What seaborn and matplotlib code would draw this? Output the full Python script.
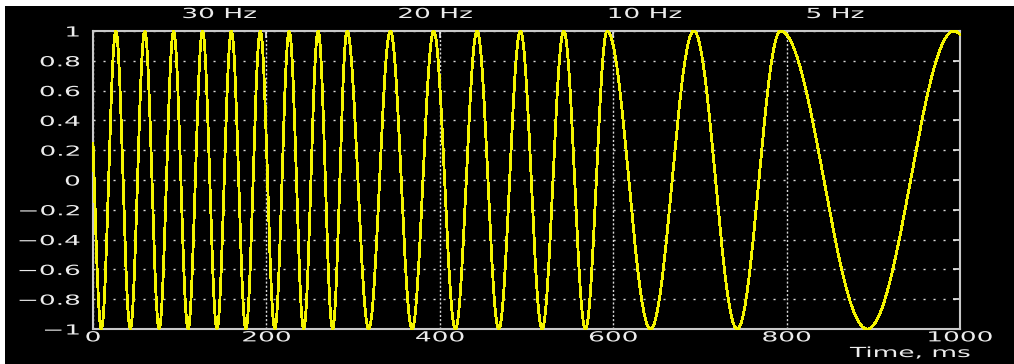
import numpy as np
import matplotlib
matplotlib.use("Agg")
import matplotlib.pyplot as plt
import seaborn as sns
from matplotlib.patheffects import AbstractPathEffect
from matplotlib.transforms import Affine2D, blended_transform_factory
from matplotlib.patches import Rectangle

# Stepped-frequency test tone: frequency changes at crests, phase stays continuous
segment_edges_ms = [0, 293, 593, 793, 1000]
segment_freqs_hz = [30, 20, 10, 5]
segment_labels = ["30 Hz", "20 Hz", "10 Hz", "5 Hz"]
label_x_ms = [103, 352, 594, 823]

x_ticks = [0, 200, 400, 600, 800, 1000]
x_tick_labels = ["0", "200", "400", "600", "800", "1000"]
y_ticks = [-1, -0.8, -0.6, -0.4, -0.2, 0, 0.2, 0.4, 0.6, 0.8, 1]
y_tick_labels = ["\u22121", "\u22120.8", "\u22120.6", "\u22120.4", "\u22120.2", "0",
                 "0.2", "0.4", "0.6", "0.8", "1"]

# 1 ms sampling of the signal
t_ms = np.arange(segment_edges_ms[0], segment_edges_ms[-1] + 1)
edges = np.array(segment_edges_ms, dtype=float)
freqs = np.array(segment_freqs_hz, dtype=float)
cycles_at_edge = np.concatenate([[0.0], np.cumsum(freqs * np.diff(edges) / 1000.0)])
seg = np.clip(np.searchsorted(edges, t_ms, side="right") - 1, 0, len(freqs) - 1)
cycles = cycles_at_edge[seg] + freqs[seg] * (t_ms - edges[seg]) / 1000.0
signal = np.cos(2 * np.pi * (cycles - cycles_at_edge[1]))


class Stretch(AbstractPathEffect):
    """Widen glyphs horizontally about an anchor (0 left, 0.5 centre, 1 right)."""

    def __init__(self, sx, anchor):
        super().__init__()
        self.sx = sx
        self.anchor = anchor

    def draw_path(self, renderer, gc, tpath, affine, rgbFace=None):
        ext = tpath.get_extents()
        x0 = ext.x0 + self.anchor * ext.width
        tr = Affine2D().translate(-x0, 0).scale(self.sx, 1.0).translate(x0, 0) + affine
        renderer.draw_path(gc, tpath, tr, rgbFace)


sns.set_theme(style="dark")
plt.rcParams["font.family"] = ["DejaVu Sans"]
plt.rcParams["axes.unicode_minus"] = True

FG = "#ececec"
SX = 1.9

fig = plt.figure(figsize=(10.14, 3.64), dpi=100, facecolor="black")
ax = fig.add_axes([93 / 1014, 1 - 329 / 364, 867 / 1014, 298 / 364])
ax.set_facecolor("black")

sns.lineplot(x=t_ms, y=signal, ax=ax, color="#f4f400", linewidth=1.3,
             estimator=None, sort=False)
line = ax.get_lines()[0]
line.set_antialiased(False)
line.set_clip_on(False)
line.set_zorder(5)

ax.set_xlim(0, 1000)
ax.set_ylim(-1, 1)
ax.set_xticks(x_ticks)
ax.set_xticklabels(x_tick_labels)
ax.set_yticks(y_ticks)
ax.set_yticklabels(y_tick_labels)
ax.set_xlabel("")
ax.set_ylabel("")

for side in ax.spines.values():
    side.set_visible(True)
    side.set_color("#c8c8c8")
    side.set_linewidth(1.5)

ax.tick_params(axis="both", which="major", direction="in", length=5, width=1.2,
               color=FG, labelcolor=FG, labelsize=10, top=True, right=True)
ax.tick_params(axis="y", pad=9.4)
ax.tick_params(axis="x", pad=1.0)

ax.xaxis.grid(True, color="#d8d8d8", linewidth=1.0, linestyle=(0, (1.5, 1.5)))
ax.yaxis.grid(True, color="#d8d8d8", linewidth=1.0, linestyle=(0, (1.5, 5.7)))
ax.set_axisbelow(True)

top = blended_transform_factory(ax.transData, ax.transAxes)
for name, xm in zip(segment_labels, label_x_ms):
    ax.text(xm, 1 + 13 / 298, name, transform=top, ha="left", va="baseline",
            color=FG, fontsize=10, path_effects=[Stretch(SX, 0.0)])

ax.text(1 + 10 / 867, -28 / 298, "Time, ms", transform=ax.transAxes, ha="right",
        va="baseline", color=FG, fontsize=10, path_effects=[Stretch(SX, 1.0)])

# Narrow white strips along the top and left edge of the canvas
fig.add_artist(Rectangle((0, 1 - 6 / 364), 1, 6 / 364, transform=fig.transFigure,
                         facecolor="white", edgecolor="none"))
fig.add_artist(Rectangle((0, 0), 5 / 1014, 1, transform=fig.transFigure,
                         facecolor="white", edgecolor="none"))

fig.canvas.draw()
for tick in ax.xaxis.get_major_ticks():
    tick.label1.set_path_effects([Stretch(SX, 0.5)])
for tick in ax.yaxis.get_major_ticks():
    tick.label1.set_path_effects([Stretch(SX, 1.0)])

fig.savefig("out.png", dpi=100, facecolor="black")
